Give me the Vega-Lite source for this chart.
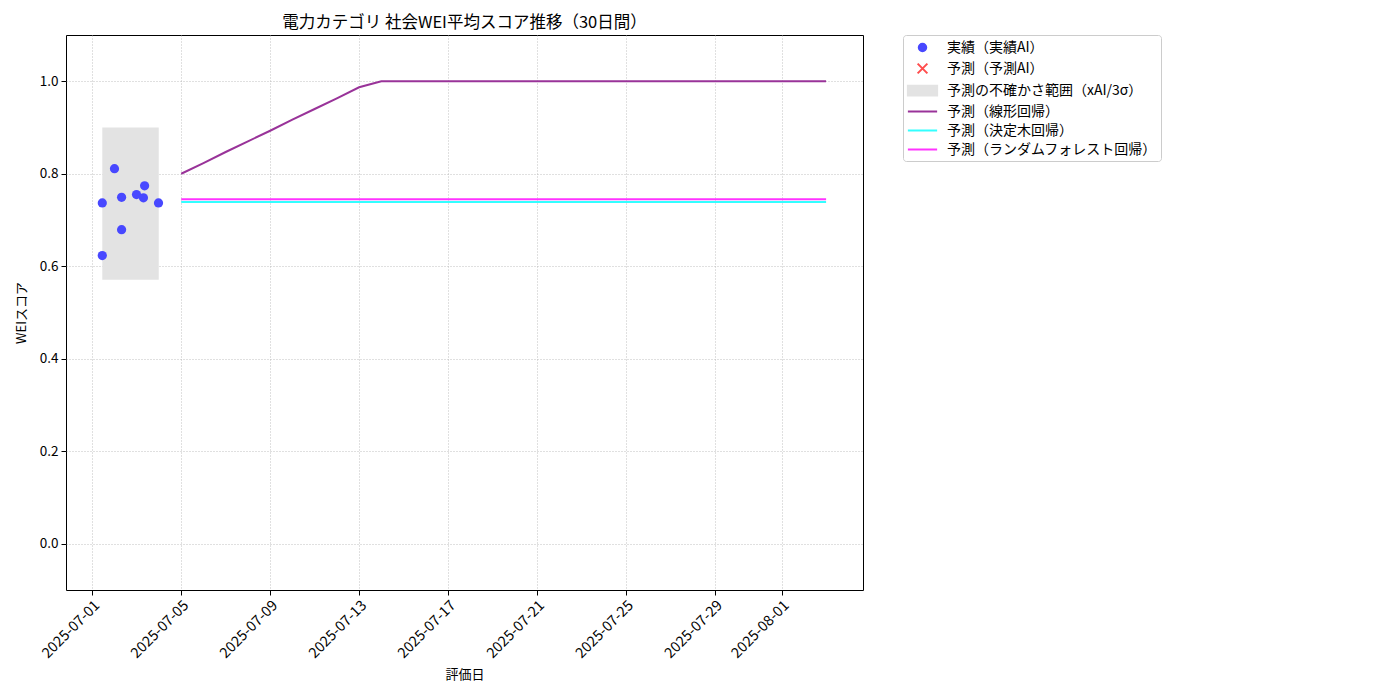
{
  "$schema": "https://vega.github.io/schema/vega-lite/v6.json",
  "width": 797,
  "height": 555,
  "padding": {"left": 15, "top": 15, "right": 5, "bottom": 5},
  "title": {
    "text": "電力カテゴリ 社会WEI平均スコア推移（30日間）",
    "fontSize": 16.5,
    "fontWeight": "normal",
    "font": "Noto Sans CJK JP",
    "anchor": "middle",
    "frame": "group",
    "offset": 3,
    "color": "#000000"
  },
  "data": {
    "values": [
      {"s": "予測の不確かさ範囲（xAI/3σ）", "d": "2025-07-01T10:50:00", "d2": "2025-07-03T23:45:00", "v": 0.571, "v2": 0.9},
      {"s": "予測（線形回帰）", "d": "2025-07-05T00:00:00", "v": 0.8},
      {"s": "予測（線形回帰）", "d": "2025-07-06T00:00:00", "v": 0.823},
      {"s": "予測（線形回帰）", "d": "2025-07-07T00:00:00", "v": 0.847},
      {"s": "予測（線形回帰）", "d": "2025-07-08T00:00:00", "v": 0.87},
      {"s": "予測（線形回帰）", "d": "2025-07-09T00:00:00", "v": 0.893},
      {"s": "予測（線形回帰）", "d": "2025-07-10T00:00:00", "v": 0.917},
      {"s": "予測（線形回帰）", "d": "2025-07-11T00:00:00", "v": 0.94},
      {"s": "予測（線形回帰）", "d": "2025-07-12T00:00:00", "v": 0.963},
      {"s": "予測（線形回帰）", "d": "2025-07-13T00:00:00", "v": 0.987},
      {"s": "予測（線形回帰）", "d": "2025-07-14T00:00:00", "v": 1.0},
      {"s": "予測（線形回帰）", "d": "2025-08-03T00:00:00", "v": 1.0},
      {"s": "予測（決定木回帰）", "d": "2025-07-05T00:00:00", "v": 0.739},
      {"s": "予測（決定木回帰）", "d": "2025-08-03T00:00:00", "v": 0.739},
      {"s": "予測（ランダムフォレスト回帰）", "d": "2025-07-05T00:00:00", "v": 0.745},
      {"s": "予測（ランダムフォレスト回帰）", "d": "2025-08-03T00:00:00", "v": 0.745},
      {"s": "実績（実績AI）", "d": "2025-07-01T10:50:00", "v": 0.737},
      {"s": "実績（実績AI）", "d": "2025-07-01T10:50:00", "v": 0.623},
      {"s": "実績（実績AI）", "d": "2025-07-02T00:00:00", "v": 0.811},
      {"s": "実績（実績AI）", "d": "2025-07-02T07:40:00", "v": 0.749},
      {"s": "実績（実績AI）", "d": "2025-07-02T07:40:00", "v": 0.679},
      {"s": "実績（実績AI）", "d": "2025-07-02T23:45:00", "v": 0.755},
      {"s": "実績（実績AI）", "d": "2025-07-03T07:15:00", "v": 0.748},
      {"s": "実績（実績AI）", "d": "2025-07-03T08:30:00", "v": 0.774},
      {"s": "実績（実績AI）", "d": "2025-07-03T23:30:00", "v": 0.737}
    ]
  },
  "encoding": {
    "x": {
      "field": "d",
      "type": "temporal",
      "title": "評価日",
      "scale": {
        "domain": [
          {"year": 2025, "month": 6, "date": 29, "hours": 19, "minutes": 40},
          {"year": 2025, "month": 8, "date": 4, "hours": 15, "minutes": 50}
        ],
        "nice": false
      },
      "axis": {
        "values": [
          {"year": 2025, "month": 7, "date": 1},
          {"year": 2025, "month": 7, "date": 5},
          {"year": 2025, "month": 7, "date": 9},
          {"year": 2025, "month": 7, "date": 13},
          {"year": 2025, "month": 7, "date": 17},
          {"year": 2025, "month": 7, "date": 21},
          {"year": 2025, "month": 7, "date": 25},
          {"year": 2025, "month": 7, "date": 29},
          {"year": 2025, "month": 8, "date": 1}
        ],
        "format": "%Y-%m-%d",
        "labelAngle": -45,
        "labelAlign": "right",
        "labelBaseline": "top",
        "labelFontSize": 14.5,
        "labelOverlap": false,
        "titlePadding": 8
      }
    },
    "y": {
      "field": "v",
      "type": "quantitative",
      "title": "WEIスコア",
      "scale": {"domain": [-0.1, 1.1], "nice": false, "zero": false},
      "axis": {
        "values": [0, 0.2, 0.4, 0.6, 0.8, 1.0],
        "format": ".1f",
        "titlePadding": 11
      }
    },
    "color": {
      "field": "s",
      "type": "nominal",
      "scale": {
        "domain": ["実績（実績AI）", "予測（予測AI）", "予測の不確かさ範囲（xAI/3σ）", "予測（線形回帰）", "予測（決定木回帰）", "予測（ランダムフォレスト回帰）"],
        "range": ["#4848ff", "#ff4d4d", "#e3e3e3", "#993399", "#33ffff", "#ff33ff"]
      },
      "legend": {
        "title": null,
        "orient": "right",
        "offset": 40,
        "padding": 4,
        "symbolOffset": 7,
        "symbolSize": 225,
        "symbolOpacity": 1,
        "symbolStrokeWidth": 2,
        "symbolType": {"expr": "datum.value == '実績（実績AI）' ? 'M0.5,0A0.5,0.5,0,1,1,-0.5,0A0.5,0.5,0,1,1,0.5,0Z' : datum.value == '予測（予測AI）' ? 'M-0.65,-0.65L0.65,0.65M-0.65,0.65L0.65,-0.65' : datum.value == '予測の不確かさ範囲（xAI/3σ）' ? 'M-1.95,-0.65L1.95,-0.65L1.95,0.65L-1.95,0.65Z' : 'M-1.95,0L1.95,0'"},
        "symbolStrokeColor": {"expr": "datum.value == '実績（実績AI）' ? '#4848ff' : datum.value == '予測（予測AI）' ? '#ff4d4d' : datum.value == '予測の不確かさ範囲（xAI/3σ）' ? 'transparent' : datum.value == '予測（線形回帰）' ? '#993399' : datum.value == '予測（決定木回帰）' ? '#33ffff' : '#ff33ff'"}
      }
    }
  },
  "layer": [
    {
      "transform": [{"filter": "datum.s == '予測の不確かさ範囲（xAI/3σ）'"}],
      "mark": {"type": "rect"},
      "encoding": {
        "x2": {"field": "d2"},
        "y2": {"field": "v2"}
      }
    },
    {
      "transform": [{"filter": "datum.s == '予測（線形回帰）' || datum.s == '予測（決定木回帰）' || datum.s == '予測（ランダムフォレスト回帰）'"}],
      "mark": {"type": "line", "strokeWidth": 2},
      "encoding": {"detail": {"field": "s"}}
    },
    {
      "transform": [{"filter": "datum.s == '実績（実績AI）'"}],
      "mark": {"type": "point", "filled": true, "size": 85, "opacity": 1, "shape": "circle"}
    }
  ],
  "config": {
    "font": "Noto Sans CJK JP",
    "view": {"stroke": "#000000", "strokeWidth": 1},
    "axis": {
      "labelFont": "Noto Sans CJK JP",
      "titleFont": "Noto Sans CJK JP",
      "titleFontSize": 13,
      "titleFontWeight": "normal",
      "labelColor": "#000000",
      "titleColor": "#000000",
      "tickColor": "#000000",
      "tickSize": 5,
      "domain": false,
      "grid": true,
      "gridColor": "#b0b0b0",
      "gridDash": [1, 2],
      "gridWidth": 0.8,
      "labelPadding": 3
    },
    "axisY": {"labelFontSize": 13.5},
    "legend": {
      "labelFont": "Noto Sans CJK JP",
      "labelFontSize": 14,
      "labelColor": "#000000",
      "strokeColor": "#cccccc",
      "fillColor": "#ffffff",
      "cornerRadius": 3,
      "rowPadding": 3,
      "labelOffset": 16,
      "labelLimit": 400
    }
  }
}
